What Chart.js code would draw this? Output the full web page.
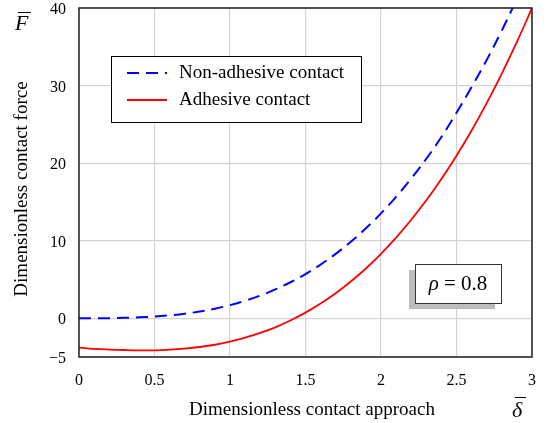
<!DOCTYPE html>
<html><head><meta charset="utf-8">
<script src="https://cdn.jsdelivr.net/npm/chart.js@4/dist/chart.umd.min.js"></script>
<style>html,body{margin:0;padding:0;background:#fff}</style>
</head><body>
<canvas id="c" width="549" height="423" style="display:block"></canvas>
<script>
const approach = [0,0.1,0.2,0.3,0.4,0.5,0.6,0.7,0.8,0.9,1.0,1.1,1.2,1.3,1.4,1.5,1.6,1.7,1.8,1.9,2.0,2.1,2.2,2.3,2.4,2.5,2.6,2.7,2.8,2.9,3.0];
const nonAdhesive = [0,0,0.01,0.05,0.11,0.21,0.37,0.58,0.87,1.23,1.69,2.25,2.92,3.71,4.64,5.70,6.92,8.30,9.86,11.59,13.52,15.65,18.00,20.56,23.36,26.50,29.80,33.30,37.10,41.20,45.60];
const adhesive = [-3.80,-3.95,-4.04,-4.10,-4.14,-4.14,-4.06,-3.92,-3.71,-3.42,-3.01,-2.51,-1.90,-1.17,-0.29,0.72,1.89,3.22,4.73,6.41,8.30,10.38,12.69,15.20,17.96,20.95,24.21,27.74,31.55,35.62,40.00];
const xTicks = [0,0.5,1,1.5,2,2.5,3];
const yTicks = [-5,0,10,20,30,40];
const seriesLabels = ['Non-adhesive contact','Adhesive contact'];
const xTitle = 'Dimensionless contact approach';
const yTitle = 'Dimensionless contact force';
const rhoSymbol = 'ρ';
const rhoText = ' = 0.8';

const SERIF = '"Liberation Serif","DejaVu Serif",serif';

const decor = {
  id: 'decor',
  afterDatasetsDraw(chart) {
    const ctx = chart.ctx, a = chart.chartArea;
    ctx.save();
    // frame
    ctx.strokeStyle = '#222';
    ctx.lineWidth = 1.5;
    ctx.strokeRect(a.left, a.top, a.right - a.left, a.bottom - a.top);

    // legend
    const lx = a.left + 32, ly = a.top + 48, lw = 250, lh = 66;
    ctx.fillStyle = '#fff';
    ctx.fillRect(lx, ly, lw, lh);
    ctx.strokeStyle = '#000';
    ctx.lineWidth = 1;
    ctx.strokeRect(lx + 0.5, ly + 0.5, lw, lh);
    chart.data.datasets.forEach((ds, i) => {
      const y = ly + 17 + i * 27;
      ctx.strokeStyle = ds.borderColor;
      ctx.lineWidth = ds.borderWidth;
      ctx.setLineDash(ds.borderDash || []);
      ctx.beginPath(); ctx.moveTo(lx + 16, y); ctx.lineTo(lx + 56, y); ctx.stroke();
      ctx.setLineDash([]);
      ctx.fillStyle = '#000';
      ctx.font = '19px ' + SERIF;
      ctx.textBaseline = 'middle';
      ctx.textAlign = 'left';
      ctx.fillText(ds.label, lx + 68, y);
    });

    // rho annotation
    const bx = a.left + 336, by = a.top + 256, bw = 86, bh = 39;
    ctx.fillStyle = '#bdbdbd';
    ctx.fillRect(bx - 6, by + 6, bw, bh);
    ctx.fillStyle = '#fff';
    ctx.fillRect(bx, by, bw, bh);
    ctx.strokeStyle = '#333';
    ctx.lineWidth = 1;
    ctx.strokeRect(bx + 0.5, by + 0.5, bw, bh);
    ctx.fillStyle = '#000';
    ctx.textBaseline = 'alphabetic';
    ctx.textAlign = 'left';
    ctx.font = 'italic 21px ' + SERIF;
    const w1 = ctx.measureText(rhoSymbol).width;
    ctx.font = '21px ' + SERIF;
    const w2 = ctx.measureText(rhoText).width;
    let tx = bx + bw / 2 - (w1 + w2) / 2;
    const tb = by + 26;
    ctx.font = 'italic 21px ' + SERIF;
    ctx.fillText(rhoSymbol, tx, tb);
    ctx.font = '21px ' + SERIF;
    ctx.fillText(rhoText, tx + w1, tb);

    // axis titles
    ctx.font = '19px ' + SERIF;
    ctx.textAlign = 'center';
    ctx.textBaseline = 'middle';
    ctx.fillText(xTitle, 312, 410);
    ctx.save();
    ctx.translate(22, 189);
    ctx.rotate(-Math.PI / 2);
    ctx.fillText(yTitle, 0, 0);
    ctx.restore();

    // symbols F-bar and delta-bar
    ctx.font = 'italic 22px ' + SERIF;
    ctx.textAlign = 'left';
    ctx.textBaseline = 'alphabetic';
    ctx.fillText('F', 15, 30);
    ctx.lineWidth = 1;
    ctx.strokeStyle = '#000';
    ctx.beginPath(); ctx.moveTo(18, 12.5); ctx.lineTo(31, 12.5); ctx.stroke();
    ctx.fillText('δ', 512, 417);
    ctx.beginPath(); ctx.moveTo(515, 397.5); ctx.lineTo(526, 397.5); ctx.stroke();
    ctx.restore();
  }
};

const pts = vals => approach.map((x, i) => ({x, y: vals[i]}));

new Chart(document.getElementById('c'), {
  type: 'line',
  data: {
    datasets: [
      {label: seriesLabels[0], data: pts(nonAdhesive), borderColor: '#0000ff', borderWidth: 2, borderDash: [12, 7], pointRadius: 0, tension: 0.4, fill: false},
      {label: seriesLabels[1], data: pts(adhesive), borderColor: '#ff0000', borderWidth: 1.8, pointRadius: 0, tension: 0.4, fill: false}
    ]
  },
  options: {
    responsive: false,
    animation: false,
    layout: {padding: {left: 0, top: 8, right: 17, bottom: 0}},
    plugins: {legend: {display: false}, tooltip: {enabled: false}},
    scales: {
      x: {
        type: 'linear', min: 0, max: 3,
        afterBuildTicks: s => { s.ticks = xTicks.map(v => ({value: v})); },
        afterFit: s => { s.height = 66; s.paddingLeft = 0; s.paddingRight = 0; },
        grid: {color: '#d4d4d4', lineWidth: 1.2, drawTicks: false},
        border: {display: false},
        ticks: {padding: 14, color: '#000', font: {family: SERIF, size: 16}, maxRotation: 0,
          callback: v => String(v)}
      },
      y: {
        type: 'linear', min: -5, max: 40,
        afterBuildTicks: s => { s.ticks = yTicks.map(v => ({value: v})); },
        afterFit: s => { s.width = 79; s.paddingTop = 0; s.paddingBottom = 0; },
        grid: {color: '#d4d4d4', lineWidth: 1.2, drawTicks: false},
        border: {display: false},
        ticks: {padding: 13, labelOffset: 2, color: '#000', font: {family: SERIF, size: 16},
          callback: v => v < 0 ? '\u2212' + Math.abs(v) : String(v)}
      }
    }
  },
  plugins: [decor]
});
</script>
</body></html>
